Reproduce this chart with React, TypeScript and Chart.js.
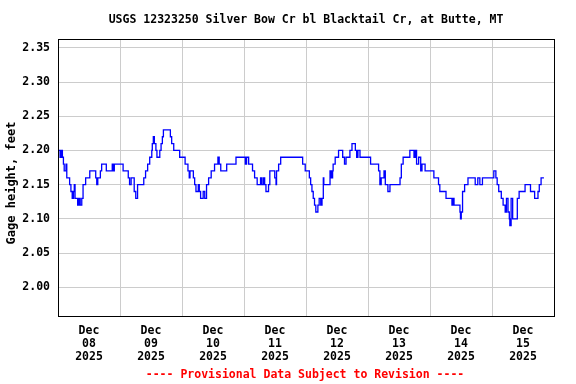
import React, { useEffect, useRef } from 'react';
import { Chart, registerables } from 'chart.js';

Chart.register(...registerables);

const TITLE = 'USGS 12323250 Silver Bow Cr bl Blacktail Cr, at Butte, MT';
const Y_LABEL = 'Gage height, feet';
const FOOTER = '---- Provisional Data Subject to Revision ----';

// hours since Dec 08 2025 00:00
const DAY_BOUNDS = [0, 24, 48, 72, 96, 120, 144, 168, 192];
const DAY_CENTERS = [12, 36, 60, 84, 108, 132, 156, 180];
const DAY_LABELS = [
  ['Dec', '08', '2025'],
  ['Dec', '09', '2025'],
  ['Dec', '10', '2025'],
  ['Dec', '11', '2025'],
  ['Dec', '12', '2025'],
  ['Dec', '13', '2025'],
  ['Dec', '14', '2025'],
  ['Dec', '15', '2025'],
];
const Y_TICKS = [2.0, 2.05, 2.1, 2.15, 2.2, 2.25, 2.3, 2.35];

// change points: time (hours since Dec 08 00:00) and gage height (ft)
const HOURS = [
  0.3, 0.8, 1.2, 1.7, 2.1, 2.4, 3.1, 3.4, 4.5, 5.0, 5.5, 6.0, 6.3, 6.6, 7.6, 8.1, 8.6, 9.2, 9.7, 10.7,
  12.3, 14.6, 15.0, 15.4, 16.4, 16.9, 18.7, 21.0, 21.4, 21.8, 25.2, 27.2, 27.7, 28.3, 29.5, 30.1, 30.8,
  33.2, 33.9, 34.7, 35.5, 36.3, 36.5, 36.9, 37.3, 37.9, 38.3, 39.4, 39.9, 40.4, 40.8, 43.5, 44.0, 44.8,
  47.1, 49.2, 50.3, 50.8, 51.1, 52.4, 52.9, 53.4, 54.3, 54.7, 55.2, 56.2, 56.8, 57.5, 58.3, 59.3, 60.6,
  61.9, 62.4, 63.0, 65.3, 68.9, 72.5, 73.0, 73.8, 75.3, 76.1, 77.1, 78.4, 78.9, 79.5, 80.0, 80.5, 81.5,
  82.0, 83.9, 84.4, 84.6, 85.4, 86.2, 94.7, 95.7, 97.3, 97.8, 98.3, 98.8, 99.3, 99.8, 100.6, 101.1,
  101.7, 102.2, 102.7, 102.9, 105.3, 105.8, 106.3, 106.5, 107.3, 108.6, 110.2, 110.9, 111.5, 113.0,
  113.8, 115.1, 115.6, 116.1, 116.9, 121.0, 124.1, 124.6, 125.1, 126.2, 126.7, 127.7, 128.5, 132.4,
  132.9, 133.6, 136.2, 137.8, 138.3, 138.8, 139.6, 140.4, 140.9, 142.1, 145.5, 147.3, 147.8, 150.2,
  152.5, 153.0, 153.3, 155.6, 155.8, 156.1, 156.6, 157.4, 158.7, 161.5, 162.5, 163.3, 164.3, 168.7,
  169.5, 170.0, 170.6, 171.6, 172.3, 173.1, 173.6, 174.2, 174.7, 174.9, 175.4, 176.0, 177.8, 178.5,
  180.8, 182.9, 184.5, 185.8, 186.3, 187.0, 188.1,
];
const GAGE = [
  2.2, 2.19, 2.2, 2.19, 2.18, 2.17, 2.18, 2.16, 2.15, 2.14, 2.13, 2.14, 2.15, 2.13, 2.12, 2.13, 2.12, 2.13, 2.15, 2.16,
  2.17, 2.16, 2.15, 2.16, 2.17, 2.18, 2.17, 2.18, 2.17, 2.18, 2.17, 2.16, 2.15, 2.16, 2.14, 2.13, 2.15,
  2.16, 2.17, 2.18, 2.19, 2.2, 2.21, 2.22, 2.21, 2.2, 2.19, 2.2, 2.21, 2.22, 2.23, 2.22, 2.21, 2.2,
  2.19, 2.18, 2.17, 2.16, 2.17, 2.16, 2.15, 2.14, 2.15, 2.14, 2.13, 2.14, 2.13, 2.15, 2.16, 2.17, 2.18,
  2.19, 2.18, 2.17, 2.18, 2.19, 2.18, 2.19, 2.18, 2.17, 2.16, 2.15, 2.16, 2.15, 2.16, 2.15, 2.14, 2.15,
  2.17, 2.16, 2.15, 2.17, 2.18, 2.19, 2.18, 2.17, 2.16, 2.15, 2.14, 2.13, 2.12, 2.11, 2.12, 2.13,
  2.12, 2.13, 2.16, 2.15, 2.17, 2.16, 2.17, 2.18, 2.19, 2.2, 2.19, 2.18, 2.19, 2.2,
  2.21, 2.2, 2.19, 2.2, 2.19, 2.18, 2.17, 2.15, 2.16, 2.17, 2.15, 2.14, 2.15, 2.16,
  2.18, 2.19, 2.2, 2.19, 2.2, 2.18, 2.19, 2.17, 2.18, 2.17, 2.16, 2.15, 2.14, 2.13,
  2.12, 2.13, 2.12, 2.11, 2.1, 2.11, 2.14, 2.15, 2.16, 2.15, 2.16, 2.15, 2.16, 2.17,
  2.16, 2.15, 2.14, 2.13, 2.12, 2.11, 2.13, 2.11, 2.1, 2.09, 2.13, 2.1, 2.13, 2.14,
  2.15, 2.14, 2.13, 2.14, 2.15, 2.16, 2.16,
];

const FONT = '"DejaVu Sans Mono", "Liberation Mono", monospace';

const framePlugin = {
  id: 'frameAndText',
  afterDraw(chart: any) {
    const { ctx, chartArea: ca } = chart;
    ctx.save();
    ctx.strokeStyle = '#000000';
    ctx.lineWidth = 1;
    ctx.strokeRect(ca.left + 0.5, ca.top - 0.5, ca.right - ca.left, ca.bottom - ca.top + 1);

    ctx.fillStyle = '#000000';
    ctx.font = `bold 11.5px ${FONT}`;
    ctx.textAlign = 'center';
    ctx.textBaseline = 'middle';
    ctx.fillText(TITLE, 306, 20);

    ctx.fillStyle = '#FF0000';
    ctx.fillText(FOOTER, 305, 375);

    ctx.fillStyle = '#000000';
    ctx.font = `bold 12px ${FONT}`;
    ctx.translate(12, 183);
    ctx.rotate(-Math.PI / 2);
    ctx.fillText(Y_LABEL, 0, 0);
    ctx.restore();
  },
};

export default function App() {
  const ref = useRef<HTMLCanvasElement | null>(null);

  useEffect(() => {
    if (!ref.current) return;
    const points = HOURS.map((h, i) => ({ x: h, y: GAGE[i] }));
    const chart = new Chart(ref.current, {
      type: 'line',
      data: {
        datasets: [
          {
            data: points,
            borderColor: '#0000FF',
            borderWidth: 1.3,
            pointRadius: 0,
            stepped: true,
            tension: 0,
            fill: false,
            xAxisID: 'x',
            yAxisID: 'y',
          },
        ],
      },
      options: {
        animation: false,
        responsive: false,
        maintainAspectRatio: false,
        layout: { padding: { top: 40, right: 22, left: 0, bottom: 0 } },
        plugins: { legend: { display: false }, title: { display: false }, tooltip: { enabled: false } },
        scales: {
          x: {
            type: 'linear',
            position: 'bottom',
            min: 0,
            max: 192,
            afterBuildTicks: (axis: any) => {
              axis.ticks = DAY_BOUNDS.map((v) => ({ value: v }));
            },
            afterFit: (axis: any) => {
              axis.height = 0;
            },
            ticks: { display: false },
            grid: { color: '#CCCCCC', lineWidth: 1, drawTicks: false },
            border: { display: false },
          },
          xLab: {
            type: 'linear',
            position: 'bottom',
            min: 0,
            max: 192,
            afterBuildTicks: (axis: any) => {
              axis.ticks = DAY_CENTERS.map((v) => ({ value: v }));
            },
            afterFit: (axis: any) => {
              axis.height = 68;
            },
            ticks: {
              autoSkip: false,
              maxRotation: 0,
              minRotation: 0,
              padding: 9,
              color: '#000000',
              font: { family: FONT, size: 11.5, weight: 'bold', lineHeight: 1.12 },
              callback: (value: any) => {
                const i = DAY_CENTERS.indexOf(Number(value));
                return i >= 0 ? DAY_LABELS[i] : '';
              },
            },
            grid: { display: false, drawTicks: false },
            border: { display: false },
          },
          y: {
            type: 'linear',
            position: 'left',
            min: 1.958,
            max: 2.3614,
            afterBuildTicks: (axis: any) => {
              axis.ticks = Y_TICKS.map((v) => ({ value: v }));
            },
            afterFit: (axis: any) => {
              axis.width = 58;
            },
            ticks: {
              padding: 8,
              color: '#000000',
              font: { family: FONT, size: 11.5, weight: 'bold' },
              callback: (value: any) => Number(value).toFixed(2),
            },
            grid: { color: '#CCCCCC', lineWidth: 1, drawTicks: false },
            border: { display: false },
          },
        },
      },
      plugins: [framePlugin],
    } as any);
    return () => chart.destroy();
  }, []);

  return (
    <div style={{ position: 'absolute', left: 0, top: 0, width: 576, height: 384, background: '#FFFFFF' }}>
      <canvas ref={ref} width={576} height={384} />
    </div>
  );
}
